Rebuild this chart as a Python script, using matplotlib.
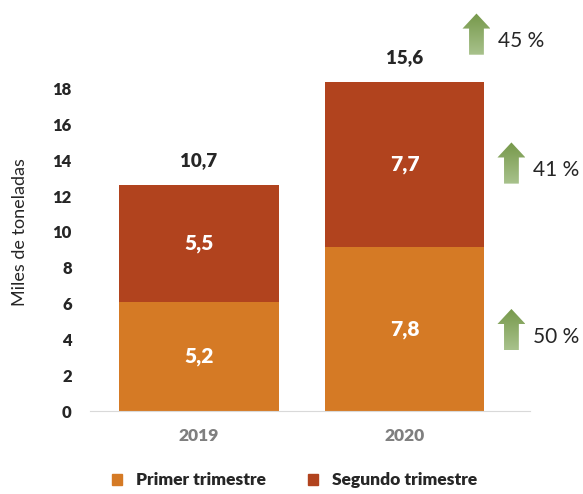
import numpy as np
import matplotlib.pyplot as plt
from matplotlib.patches import Polygon, Patch
from matplotlib.colors import LinearSegmentedColormap

# datos del grafico
anios = ["2019", "2020"]
primer_alto = [6.1, 9.15]        # altura dibujada de las barras
segundo_alto = [6.5, 9.2]
primer_etiq = ["5,2", "7,8"]
segundo_etiq = ["5,5", "7,7"]
total_etiq = ["10,7", "15,6"]
variacion_etiq = ["50 %", "41 %", "45 %"]
variacion_y = [3.4, 12.7, 19.9]   # base de cada flecha
variacion_x = [1.52, 1.52, 1.35]
yticks = [0, 2, 4, 6, 8, 10, 12, 14, 16, 18]

naranja = "#D57A25"
rojo = "#B1431E"
texto = "#262626"
fuente = ["Lato", "DejaVu Sans"]

plt.rcParams["font.family"] = fuente

fig = plt.figure(figsize=(5.83, 4.94), dpi=100)
ax = fig.add_axes([0.154, 0.168, 0.755, 0.822])

x = np.arange(len(anios))
ancho = 0.777
ax.bar(x, primer_alto, ancho, color=naranja, label="Primer trimestre")
ax.bar(x, segundo_alto, ancho, bottom=primer_alto, color=rojo, label="Segundo trimestre")

for i in range(len(anios)):
    ax.text(x[i], primer_alto[i] / 2, primer_etiq[i], ha="center", va="center",
            color="white", fontsize=15, fontweight="heavy")
    ax.text(x[i], primer_alto[i] + segundo_alto[i] / 2, segundo_etiq[i], ha="center",
            va="center", color="white", fontsize=15, fontweight="heavy")
    ax.text(x[i], primer_alto[i] + segundo_alto[i] + 1.4, total_etiq[i], ha="center",
            va="center", color=texto, fontsize=13.5, fontweight="heavy")

# flechas verdes con degradado
verde = LinearSegmentedColormap.from_list("verde", ["#A8C28C", "#76984A"])
alto_f = 2.3
cabeza = 0.84
ancho_f = 0.068
ancho_c = 0.036
for i in range(len(variacion_etiq)):
    cx = variacion_x[i]
    y0 = variacion_y[i]
    pts = [(cx - ancho_c, y0), (cx + ancho_c, y0), (cx + ancho_c, y0 + alto_f - cabeza),
           (cx + ancho_f, y0 + alto_f - cabeza), (cx, y0 + alto_f),
           (cx - ancho_f, y0 + alto_f - cabeza), (cx - ancho_c, y0 + alto_f - cabeza)]
    poli = Polygon(pts, closed=True, facecolor="none", edgecolor="none", clip_on=False)
    ax.add_patch(poli)
    grad = np.linspace(0, 1, 100).reshape(-1, 1)
    im = ax.imshow(grad, cmap=verde, origin="lower", aspect="auto",
                   extent=[cx - ancho_f, cx + ancho_f, y0, y0 + alto_f], zorder=3)
    im.set_clip_path(poli)
    ax.text(cx + 0.105, y0 + 0.75, variacion_etiq[i], ha="left", va="center",
            color=texto, fontsize=15)

ax.set_xlim(-0.53, 1.61)
ax.set_ylim(0, 22.68)
ax.set_yticks(yticks)
ax.set_yticklabels([str(t) for t in yticks], fontweight="heavy", color=texto, fontsize=12)
ax.set_xticks(x)
ax.set_xticklabels(anios, fontweight="heavy", color="#7F7F7F", fontsize=12.5)
ax.tick_params(length=0)
ax.tick_params(axis="x", pad=12)
ax.tick_params(axis="y", pad=13)
for lado in ["top", "right", "left"]:
    ax.spines[lado].set_visible(False)
ax.spines["bottom"].set_color("#D9D9D9")
ax.set_ylabel("Miles de toneladas", fontsize=13, color=texto)
ax.yaxis.set_label_coords(-0.14, 0.44)

handles = [Patch(color=naranja), Patch(color=rojo)]
leg = fig.legend(handles, ["Primer trimestre", "Segundo trimestre"], loc="lower center",
                 bbox_to_anchor=(0.505, -0.02), ncol=2, frameon=False,
                 handlelength=0.6, handleheight=0.6, columnspacing=2.4,
                 prop={"weight": "heavy", "size": 12.5})
for t in leg.get_texts():
    t.set_color(texto)

fig.savefig("out.png", dpi=100)
